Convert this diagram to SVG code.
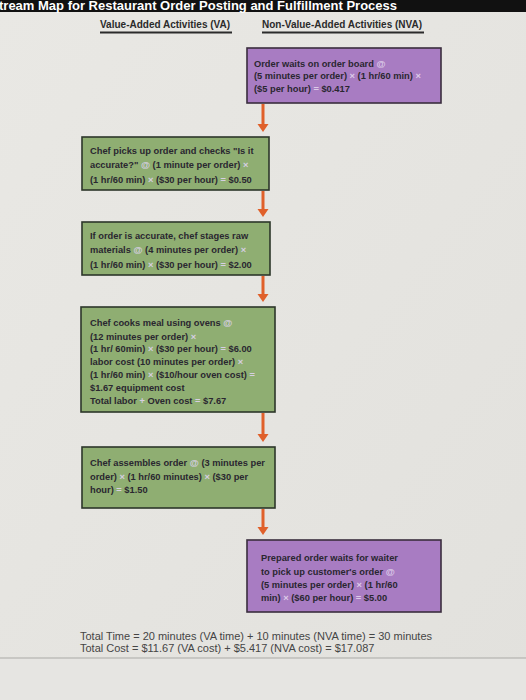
<svg xmlns="http://www.w3.org/2000/svg" width="526" height="700" viewBox="0 0 526 700">
  <defs>
    <linearGradient id="bg" x1="0" y1="0" x2="1" y2="1">
      <stop offset="0" stop-color="#e9e8e4"/>
      <stop offset="1" stop-color="#e2e1dd"/>
    </linearGradient>
    <path id="ah" d="M-5.5,0 L5.5,0 L0,8 Z" fill="#e0602a"/>
  </defs>
  <style>
    .title { font-family: "Liberation Sans", Arial, sans-serif; font-weight: bold; font-size: 13px; fill: #ffffff; }
    .hdr { font-family: "Liberation Sans", Arial, sans-serif; font-weight: bold; font-size: 10px; fill: #2b2b2b; }
    .ul { stroke: #2b2b2b; stroke-width: 2; }
    .nva { fill: #a87cc2; stroke: #3a2d3e; stroke-width: 1.6; }
    .va { fill: #8fae72; stroke: #2c362a; stroke-width: 1.6; }
    .t { font-family: "Liberation Sans", Arial, sans-serif; font-weight: bold; font-size: 9.3px; fill: #2a2730; }
    .op { fill: #dccbe8; }
    .opg { fill: #d6cfe2; }
    .conn { stroke: #e0602a; stroke-width: 3; fill: none; }
    .foot { font-family: "Liberation Sans", Arial, sans-serif; font-size: 11px; fill: #454545; }
  </style>
  <rect x="0" y="0" width="526" height="700" fill="url(#bg)"/>
  <rect x="0" y="658" width="526" height="42" fill="#e6e5e2"/>
  <line x1="0" y1="658" x2="526" y2="658" stroke="#a9a9a6" stroke-width="1.2"/>
  <rect x="0" y="0" width="526" height="12" fill="#111111"/>
  <text class="title" x="-1" y="9.5">tream Map for Restaurant Order Posting and Fulfillment Process</text>

  <g id="headers">
    <text class="hdr" x="100" y="28">Value-Added Activities (VA)</text>
    <line class="ul" x1="100" y1="32.5" x2="232" y2="32.5"/>
    <text class="hdr" x="262" y="28">Non-Value-Added Activities (NVA)</text>
    <line class="ul" x1="262" y1="32.5" x2="424" y2="32.5"/>
  </g>

  <g id="connectors">
    <line class="conn" x1="263" y1="104" x2="263" y2="125"/>
    <use href="#ah" x="263" y="124"/>
    <line class="conn" x1="263" y1="191" x2="263" y2="210"/>
    <use href="#ah" x="263" y="209"/>
    <line class="conn" x1="263" y1="276" x2="263" y2="295"/>
    <use href="#ah" x="263" y="294"/>
    <line class="conn" x1="263" y1="413" x2="263" y2="435"/>
    <use href="#ah" x="263" y="434"/>
    <line class="conn" x1="263" y1="509" x2="263" y2="528"/>
    <use href="#ah" x="263" y="527"/>
  </g>

  <g id="nva1">
    <rect class="nva" x="247" y="48" width="194" height="55"/>
    <text class="t" x="254" y="66.5">Order waits on order board <tspan class="op">@</tspan></text>
    <text class="t" x="254" y="79">(5 minutes per order) <tspan class="op">×</tspan> (1 hr/60 min) <tspan class="op">×</tspan></text>
    <text class="t" x="254" y="91.5">($5 per hour) <tspan class="op">=</tspan> $0.417</text>
  </g>

  <g id="va1">
    <rect class="va" x="82" y="137" width="187" height="53"/>
    <text class="t" x="90" y="154">Chef picks up order and checks  "Is it</text>
    <text class="t" x="90" y="168">accurate?" <tspan class="opg">@</tspan> (1 minute per order) <tspan class="opg">×</tspan></text>
    <text class="t" x="90" y="182.5">(1 hr/60 min) <tspan class="opg">×</tspan> ($30 per hour) <tspan class="opg">=</tspan> $0.50</text>
  </g>

  <g id="va2">
    <rect class="va" x="82" y="222" width="188" height="53"/>
    <text class="t" x="90" y="239">If order is accurate, chef stages raw</text>
    <text class="t" x="90" y="253">materials <tspan class="opg">@</tspan> (4 minutes per order) <tspan class="opg">×</tspan></text>
    <text class="t" x="90" y="267.5">(1 hr/60 min) <tspan class="opg">×</tspan> ($30 per hour) <tspan class="opg">=</tspan> $2.00</text>
  </g>

  <g id="va3">
    <rect class="va" x="81" y="307" width="194" height="105"/>
    <text class="t" x="90" y="326">Chef cooks meal using ovens <tspan class="opg">@</tspan></text>
    <text class="t" x="90" y="339.5">(12 minutes per order) <tspan class="opg">×</tspan></text>
    <text class="t" x="90" y="352">(1 hr/ 60min) <tspan class="opg">×</tspan> ($30 per hour) <tspan class="opg">=</tspan> $6.00</text>
    <text class="t" x="90" y="365">labor cost (10 minutes per order) <tspan class="opg">×</tspan></text>
    <text class="t" x="90" y="378">(1 hr/60 min) <tspan class="opg">×</tspan> ($10/hour oven cost) <tspan class="opg">=</tspan></text>
    <text class="t" x="90" y="391">$1.67 equipment cost</text>
    <text class="t" x="90" y="404">Total labor <tspan class="opg">+</tspan> Oven cost <tspan class="opg">=</tspan> $7.67</text>
  </g>

  <g id="va4">
    <rect class="va" x="82" y="447" width="193" height="61"/>
    <text class="t" x="90" y="466">Chef assembles order <tspan class="opg">@</tspan> (3 minutes per</text>
    <text class="t" x="90" y="479.5">order) <tspan class="opg">×</tspan> (1 hr/60 minutes) <tspan class="opg">×</tspan> ($30 per</text>
    <text class="t" x="90" y="492.5">hour) <tspan class="opg">=</tspan> $1.50</text>
  </g>

  <g id="nva2">
    <rect class="nva" x="247" y="540" width="194" height="72"/>
    <text class="t" x="261" y="561">Prepared order waits for waiter</text>
    <text class="t" x="261" y="574.5">to pick up customer's order <tspan class="op">@</tspan></text>
    <text class="t" x="261" y="588">(5 minutes per order) <tspan class="op">×</tspan> (1 hr/60</text>
    <text class="t" x="261" y="601">min) <tspan class="op">×</tspan> ($60 per hour) <tspan class="op">=</tspan> $5.00</text>
  </g>

  <g id="footer">
    <text class="foot" x="80" y="639.5">Total Time = 20 minutes (VA time) + 10 minutes (NVA time) = 30 minutes</text>
    <text class="foot" x="80" y="652">Total Cost = $11.67 (VA cost) + $5.417 (NVA cost) = $17.087</text>
  </g>
</svg>
